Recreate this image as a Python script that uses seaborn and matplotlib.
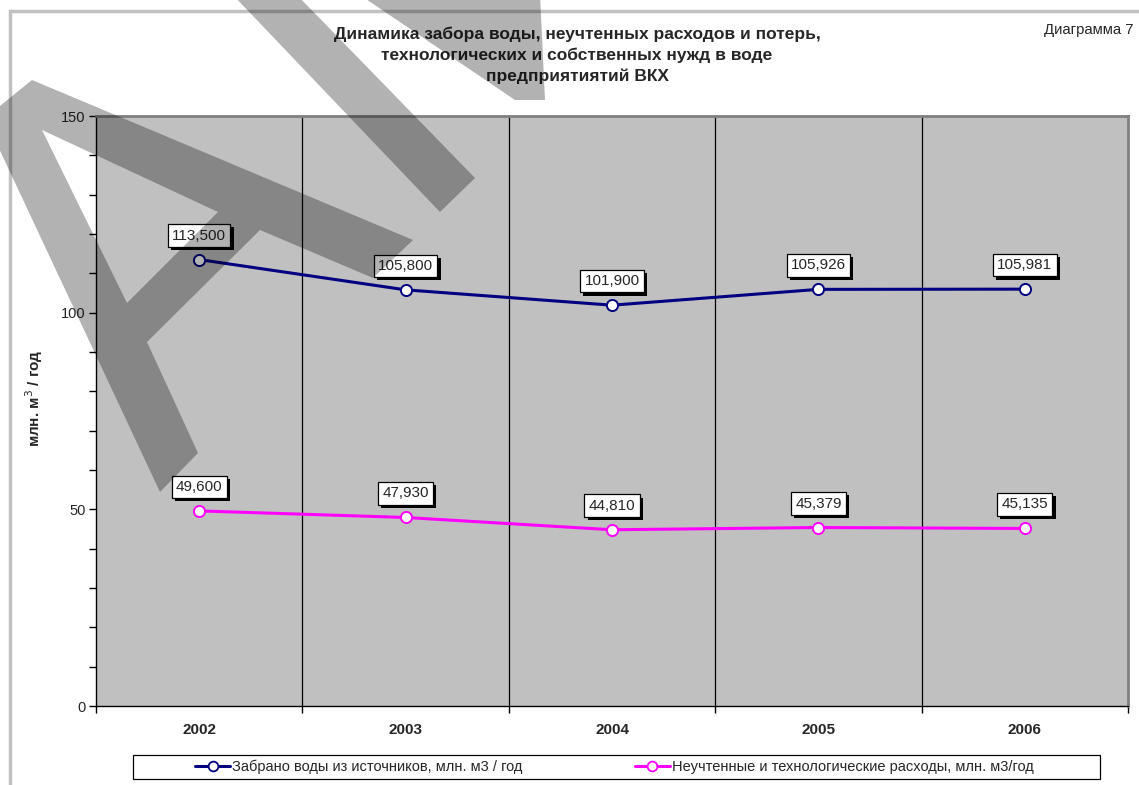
import numpy as np
import pandas as pd
import matplotlib
matplotlib.use("Agg")
import matplotlib.pyplot as plt
import seaborn as sns
from matplotlib.patches import Rectangle, PathPatch
from matplotlib.path import Path
from matplotlib.lines import Line2D
import matplotlib.patheffects as pe

# ---- data ----
years = ["2002", "2003", "2004", "2005", "2006"]
withdrawn = [113.500, 105.800, 101.900, 105.926, 105.981]
losses = [49.600, 47.930, 44.810, 45.379, 45.135]
withdrawn_labels = ["113,500", "105,800", "101,900", "105,926", "105,981"]
losses_labels = ["49,600", "47,930", "44,810", "45,379", "45,135"]
series_names = ["Забрано воды из источников, млн. м3 / год",
                "Неучтенные и технологические расходы, млн. м3/год"]
colors = ["#000080", "#FF00FF"]
title = ("Динамика забора воды, неучтенных расходов и потерь,\n"
         "технологических и собственных нужд в воде\n"
         "предприятиятий ВКХ")

sns.set_style("white")
plt.rcParams["font.family"] = ["Liberation Sans", "DejaVu Sans"]

W, H = 1139, 785
fig = plt.figure(figsize=(W / 100, H / 100), dpi=100)
fx = lambda px: px / W
fy = lambda py: 1 - py / H

# outer light grey frame
fig.patches.append(Rectangle((fx(10), fy(1400)), 2.0, fy(11) - fy(1400),
                             transform=fig.transFigure, fill=False,
                             edgecolor="#c0c0c0", lw=2.5, zorder=0))

ax = fig.add_axes([fx(96), fy(706), fx(1128) - fx(96), fy(116) - fy(706)])
ax.set_facecolor("#c0c0c0")

df = pd.DataFrame({
    "year": years * 2,
    "value": withdrawn + losses,
    "series": [series_names[0]] * 5 + [series_names[1]] * 5,
})
sns.lineplot(data=df, x="year", y="value", hue="series", palette=colors,
             marker="o", markersize=8, markerfacecolor="white",
             markeredgewidth=1.4, linewidth=2.2, ax=ax, legend=False,
             sort=False, zorder=3)
for ln, c in zip(ax.get_lines(), colors):
    ln.set_markeredgecolor(c)

ax.set_xlim(-0.5, 4.5)
ax.set_ylim(0, 150)

# y ticks
ax.set_yticks(np.arange(0, 151, 10))
ax.set_yticklabels([str(v) if v % 50 == 0 else "" for v in range(0, 151, 10)],
                   fontsize=10.5)
ax.tick_params(axis="y", which="major", direction="out", length=5, width=1,
               color="black", left=True, pad=2.5)
# x ticks
ax.set_xticks(range(len(years)))
ax.set_xticklabels(years, fontsize=11, fontweight="bold")
ax.set_xticks(np.arange(-0.5, 5, 1), minor=True)
ax.tick_params(axis="x", which="major", length=0, pad=12)
ax.tick_params(axis="x", which="minor", direction="out", length=5, width=1,
               color="black", bottom=True)
ax.grid(False)
for xb in np.arange(0.5, 4.5, 1):
    ax.axvline(xb, color="black", lw=0.9, zorder=1)

ax.set_xlabel("")
ax.set_ylabel("млн. м$^3$ / год", fontsize=11, fontweight="bold")
ax.yaxis.set_label_coords((45 - 96) / 1032, (706 - 398) / 590)

for s in ["left", "bottom"]:
    ax.spines[s].set_color("black")
    ax.spines[s].set_linewidth(1)
for s in ["top", "right"]:
    ax.spines[s].set_color("#808080")
    ax.spines[s].set_linewidth(2)

# data labels
for vals, labs in [(withdrawn, withdrawn_labels), (losses, losses_labels)]:
    for i, (v, lab) in enumerate(zip(vals, labs)):
        t = ax.annotate(lab, (i, v), xytext=(0, 24), textcoords="offset pixels",
                        ha="center", va="center", fontsize=11, zorder=5,
                        bbox=dict(boxstyle="square,pad=0.28", fc="white",
                                  ec="black", lw=0.9))
        t.get_bbox_patch().set_path_effects([
            pe.SimplePatchShadow(offset=(2.3, -2.3), shadow_rgbFace="black",
                                 alpha=1.0),
            pe.Normal()])

# title and note
fig.text(fx(577), fy(55), title, ha="center", va="center", fontsize=12.5,
         fontweight="bold", linespacing=1.45)
fig.text(fx(1133), fy(30), "Диаграмма 7", ha="right", va="center", fontsize=10.7)

# legend
fig.patches.append(Rectangle((fx(133), fy(779)), fx(1100) - fx(133),
                             fy(755) - fy(779), transform=fig.transFigure,
                             fill=True, fc="white", edgecolor="black", lw=0.9,
                             zorder=1))
handles = [Line2D([0], [0], color=c, lw=2.2, marker="o", markersize=7,
                  markerfacecolor="white", markeredgecolor=c, markeredgewidth=1.3)
           for c in colors]
leg = fig.legend(handles, series_names, loc="center left", ncol=2, frameon=False,
                 bbox_to_anchor=(fx(195), fy(767)), fontsize=10.5,
                 borderaxespad=0, borderpad=0,
                 handlelength=2.4, handletextpad=0.15, columnspacing=7.7)
leg.set_zorder(2)

# watermark (translucent overlay)
def P(pts):
    return [(fx(x), fy(y)) for x, y in pts]

polys = [
    # A outer
    [(32, 80), (413, 240), (373, 278), (260, 230), (147, 342), (198, 453),
     (160, 492), (-5, 140), (-5, 110)],
    # second diagonal stroke
    [(233, -5), (297, -5), (475, 178), (440, 212)],
    # top stroke
    [(360, -5), (540, -5), (545, 100), (515, 100)],
]
hole = [(42, 130), (218, 212), (127, 303)]
verts, codes = [], []
for poly in polys:
    pp = P(poly)
    a = sum(pp[i][0] * pp[(i + 1) % len(pp)][1] - pp[(i + 1) % len(pp)][0] * pp[i][1]
            for i in range(len(pp)))
    if a < 0:
        pp = pp[::-1]
    verts += pp + [pp[0]]
    codes += [Path.MOVETO] + [Path.LINETO] * (len(pp) - 1) + [Path.CLOSEPOLY]
hp = P(hole)
a = sum(hp[i][0] * hp[(i + 1) % 3][1] - hp[(i + 1) % 3][0] * hp[i][1] for i in range(3))
if a > 0:
    hp = hp[::-1]
verts += hp + [hp[0]]
codes += [Path.MOVETO, Path.LINETO, Path.LINETO, Path.CLOSEPOLY]
wm = PathPatch(Path(verts, codes), transform=fig.transFigure, fc="black",
               ec="none", alpha=0.3, zorder=10)
fig.patches.append(wm)

fig.savefig("out.png", dpi=100)
